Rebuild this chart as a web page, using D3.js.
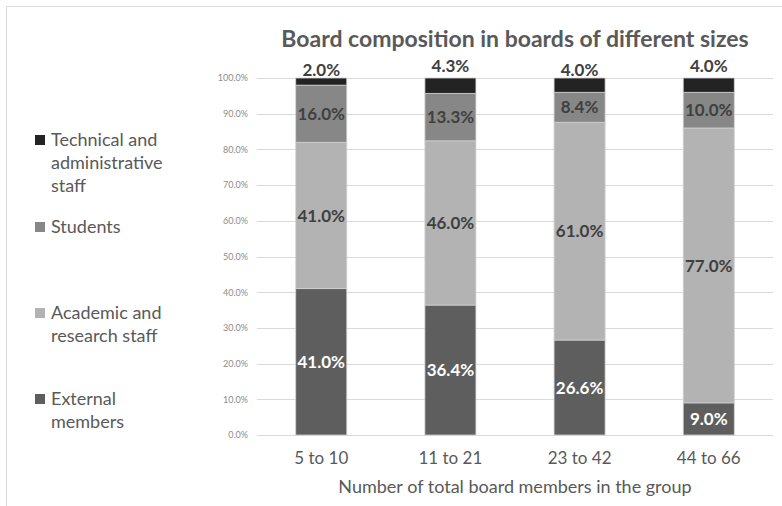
<!DOCTYPE html>
<html>
<head>
<meta charset="utf-8">
<script src="https://cdn.jsdelivr.net/npm/d3@7"></script>
<style>
  body { margin: 0; background: #fff; }
  svg { display: block; font-family: Lato, "Open Sans", sans-serif; }
</style>
</head>
<body>
<svg id="chart" width="782" height="506"></svg>
<script>
const categories = ["5 to 10", "11 to 21", "23 to 42", "44 to 66"];
const external = [41.0, 36.4, 26.6, 9.0];
const academic = [41.0, 46.0, 61.0, 77.0];
const students = [16.0, 13.3, 8.4, 10.0];
const technical = [2.0, 4.3, 4.0, 4.0];
const yTicks = [0, 10, 20, 30, 40, 50, 60, 70, 80, 90, 100];

const series = [
  { name: "External members", lines: ["External", "members"], values: external, color: "#5e5e5e", label: "#ffffff" },
  { name: "Academic and research staff", lines: ["Academic and", "research staff"], values: academic, color: "#b3b3b3", label: "#404040" },
  { name: "Students", lines: ["Students"], values: students, color: "#878787", label: "#404040" },
  { name: "Technical and administrative staff", lines: ["Technical and", "administrative", "staff"], values: technical, color: "#232323", label: "#404040" }
];

const svg = d3.select("#chart");
const margin = { top: 78, right: 9, bottom: 71, left: 257 };
const width = 782, height = 506;

// chart frame
svg.append("path")
  .attr("d", `M6.5,${height} V6.5 H${width}`)
  .attr("fill", "none")
  .attr("stroke", "#d9d9d9");

const x = d3.scaleBand()
  .domain(categories)
  .range([margin.left, width - margin.right])
  .paddingInner(0.605)
  .paddingOuter(0.3);

const y = d3.scaleLinear()
  .domain([0, 100])
  .range([height - margin.bottom, margin.top]);

// gridlines
svg.append("g")
  .selectAll("line")
  .data(yTicks)
  .join("line")
  .attr("x1", margin.left)
  .attr("x2", width - margin.right)
  .attr("y1", d => Math.round(y(d)) + 0.5)
  .attr("y2", d => Math.round(y(d)) + 0.5)
  .attr("stroke", "#d9d9d9");

// y axis labels
const yAxis = d3.axisLeft(y).tickValues(yTicks).tickFormat(d => d.toFixed(1) + "%").tickSize(0).tickPadding(9);
svg.append("g")
  .attr("transform", `translate(${margin.left},0)`)
  .call(yAxis)
  .call(g => g.select(".domain").remove())
  .call(g => g.selectAll("text").attr("fill", "#8c8c8c").style("font-size", "9px").style("font-family", "Lato, sans-serif"));

// stack
const rows = categories.map((c, i) => {
  const r = { cat: c };
  series.forEach(s => r[s.name] = s.values[i]);
  return r;
});
const stack = d3.stack().keys(series.map(s => s.name))(rows);

const layers = svg.append("g")
  .selectAll("g")
  .data(stack)
  .join("g")
  .attr("fill", (d, i) => series[i].color);

layers.selectAll("rect")
  .data(d => d)
  .join("rect")
  .attr("x", d => x(d.data.cat))
  .attr("width", x.bandwidth())
  .attr("y", d => y(d[1]))
  .attr("height", d => y(d[0]) - y(d[1]))
  .attr("stroke", "#d0d0d0")
  .attr("stroke-width", 0.8);

// labels
stack.forEach((layer, i) => {
  const s = series[i];
  const top = i === series.length - 1;
  svg.append("g")
    .selectAll("text")
    .data(layer)
    .join("text")
    .attr("x", d => x(d.data.cat) + x.bandwidth() / 2)
    .attr("y", (d, j) => top ? y(d[1]) - (j % 2 ? 6 : 2) : (y(d[0]) + y(d[1])) / 2)
    .attr("dy", top ? "0" : "0.36em")
    .attr("text-anchor", "middle")
    .attr("fill", s.label)
    .style("font-size", "17px")
    .style("font-weight", "bold")
    .text(d => (d[1] - d[0]).toFixed(1) + "%");
});

// x axis labels
const xAxis = d3.axisBottom(x).tickSize(0).tickPadding(17);
svg.append("g")
  .attr("transform", `translate(0,${height - margin.bottom})`)
  .call(xAxis)
  .call(g => g.select(".domain").remove())
  .call(g => g.selectAll("text").attr("fill", "#595959").style("font-size", "17px").style("font-family", "Lato, sans-serif"));

svg.append("text")
  .attr("x", (margin.left + width - margin.right) / 2)
  .attr("y", 493)
  .attr("text-anchor", "middle")
  .attr("fill", "#595959")
  .style("font-size", "18px")
  .text("Number of total board members in the group");

svg.append("text")
  .attr("x", (margin.left + width - margin.right) / 2)
  .attr("y", 47)
  .attr("text-anchor", "middle")
  .attr("fill", "#595959")
  .style("font-size", "23px")
  .style("font-weight", "bold")
  .text("Board composition in boards of different sizes");

// legend
const legendY = [140, 227, 313, 399];
const legendOrder = series.slice().reverse();
const legend = svg.append("g")
  .selectAll("g")
  .data(legendOrder)
  .join("g")
  .attr("transform", (d, i) => `translate(35,${legendY[i]})`);

legend.append("rect")
  .attr("x", 0).attr("y", -5)
  .attr("width", 10).attr("height", 10)
  .attr("fill", d => d.color);

legend.append("text")
  .attr("fill", "#595959")
  .style("font-size", "18px")
  .selectAll("tspan")
  .data(d => d.lines)
  .join("tspan")
  .attr("x", 16)
  .attr("y", (d, i) => i * 23)
  .attr("dy", "0.36em")
  .text(d => d);
</script>
</body>
</html>
